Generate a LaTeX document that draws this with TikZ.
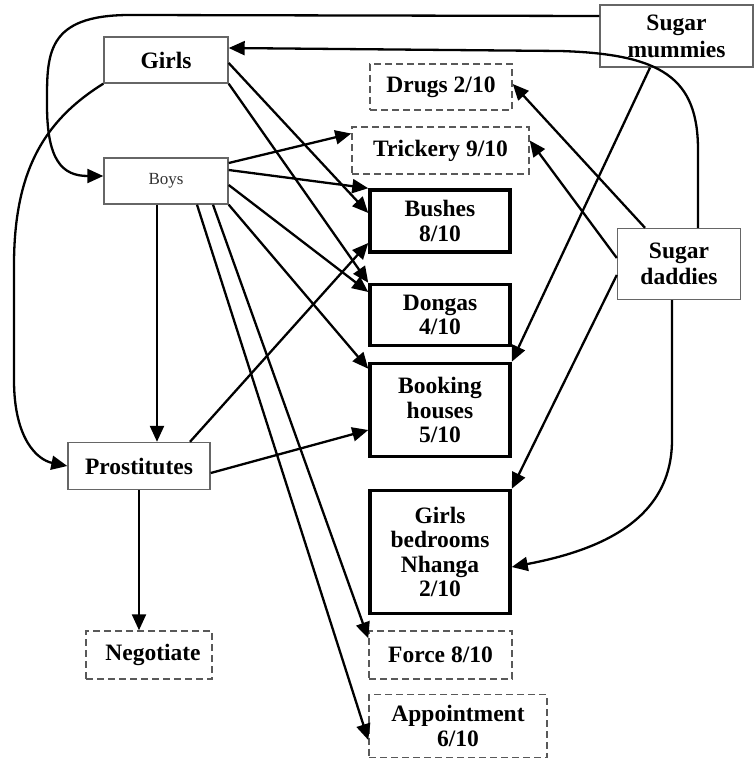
\documentclass[tikz,border=0pt]{standalone}
\usepackage{fontspec}
\setmainfont{Liberation Serif}
\usetikzlibrary{arrows.meta}
\begin{document}
\begin{tikzpicture}[x=1pt,y=-1pt,
  box/.style={rectangle, inner sep=0pt, align=center, font=\fontsize{23.5}{24.5}\selectfont\bfseries},
  thinbox/.style={box, draw=black!60, line width=1.4pt},
  thickbox/.style={box, draw=black, line width=3.5pt},
  dashbox/.style={box, draw=black!65, line width=1.5pt, dash pattern=on 7pt off 4pt},
  conn/.style={line width=2.3pt, -{Triangle[length=16pt,width=14pt]}},
]
\fill[white] (0,0) rectangle (754,760);
\useasboundingbox (0,0) rectangle (754,760);

% nodes
\node[thinbox, minimum width=124pt, minimum height=46pt] (girls) at (166,60) {Girls};
\node[thinbox, minimum width=124pt, minimum height=46pt, font=\fontsize{17}{19}\selectfont, text=black!80] (boys) at (166,181) {Boys};
\node[dashbox, minimum width=142pt, minimum height=46pt] (drugs) at (441,87) {Drugs 2/10};
\node[dashbox, minimum width=177pt, minimum height=47pt] (trick) at (440.5,150.5) {Trickery 9/10};
\node[thickbox, minimum width=140pt, minimum height=62pt] (bushes) at (440,221) {Bushes\\8/10};
\node[thickbox, minimum width=140pt, minimum height=61pt] (dongas) at (440,315) {Dongas\\4/10};
\node[thickbox, minimum width=140pt, minimum height=93pt] (booking) at (440,410) {Booking\\houses\\5/10};
\node[thickbox, minimum width=140pt, minimum height=123pt] (bedrooms) at (440,552) {Girls\\bedrooms\\Nhanga\\2/10};
\node[dashbox, minimum width=143pt, minimum height=48pt] (force) at (440.5,655) {Force 8/10};
\node[dashbox, minimum width=178pt, minimum height=63pt] (appt) at (458,726) {Appointment\\6/10};
\node[dashbox, minimum width=126pt, minimum height=48pt] (negot) at (149,655) {\hspace*{8pt}Negotiate};
\node[thinbox, minimum width=142pt, minimum height=47pt] (prost) at (139,466) {Prostitutes};
\node[thinbox, minimum width=153pt, minimum height=62pt, font=\fontsize{23.5}{27}\selectfont\bfseries] (mummies) at (676.5,36) {Sugar\\mummies};
\node[thinbox, minimum width=123pt, minimum height=71pt, font=\fontsize{23.5}{26}\selectfont\bfseries] (daddies) at (679,264) {Sugar\\daddies};

% sugar mummies
\draw[conn] ([yshift=20pt]mummies.west) -- (130,15) .. controls (45,15) and (47,55) .. (47,105)
  .. controls (47,160) and (62,176) .. ([yshift=5pt]boys.west);
\draw[conn] ([xshift=-26.5pt]mummies.south) -- (booking.north east);

% sugar daddies
\draw[conn] ([xshift=19pt]daddies.north) -- (698,150) .. controls (698,78) and (662,54) .. (560,51) -- ([yshift=12pt]girls.east);
\draw[conn] ([xshift=-7pt]daddies.south) -- (672,440) .. controls (672,525) and (590,552) .. ([yshift=-15pt]bedrooms.east);
\draw[conn] ([xshift=-34pt]daddies.north) -- ([yshift=3pt]drugs.east);
\draw[conn] ([yshift=6pt]daddies.west) -- ([yshift=10pt]trick.east);
\draw[conn] ([yshift=-11pt]daddies.west) -- (bedrooms.north east);

% girls
\draw[conn] (girls.south west) .. controls (45,120) and (14,170) .. (14,265) -- (14,380)
  .. controls (14,440) and (38,460) .. (prost.west);
\draw[conn] ([yshift=-3pt]girls.east) -- ([yshift=8pt]bushes.west);
\draw[conn] (girls.south east) -- (dongas.north west);

% boys
\draw[conn] ([yshift=18pt]boys.east) -- ([yshift=17pt]trick.west);
\draw[conn] ([yshift=11pt]boys.east) -- (bushes.north west);
\draw[conn] ([yshift=-4pt]boys.east) -- ([yshift=23pt]dongas.west);
\draw[conn] (boys.south east) -- ([yshift=-7pt]booking.north west);
\draw[conn] ([xshift=47pt]boys.south) -- ([yshift=-8pt]force.north west);
\draw[conn] ([xshift=31pt]boys.south) -- ([yshift=-14pt]appt.west);
\draw[conn] ([xshift=-9pt]boys.south) -- ([xshift=18pt]prost.north);

% prostitutes
\draw[conn] (prost.south) -- ([xshift=-10pt]negot.north);
\draw[conn] ([xshift=51pt]prost.north) -- ([yshift=-22pt]bushes.west);
\draw[conn] ([yshift=-7pt]prost.east) -- ([yshift=-20pt]booking.west);
\end{tikzpicture}
\end{document}
